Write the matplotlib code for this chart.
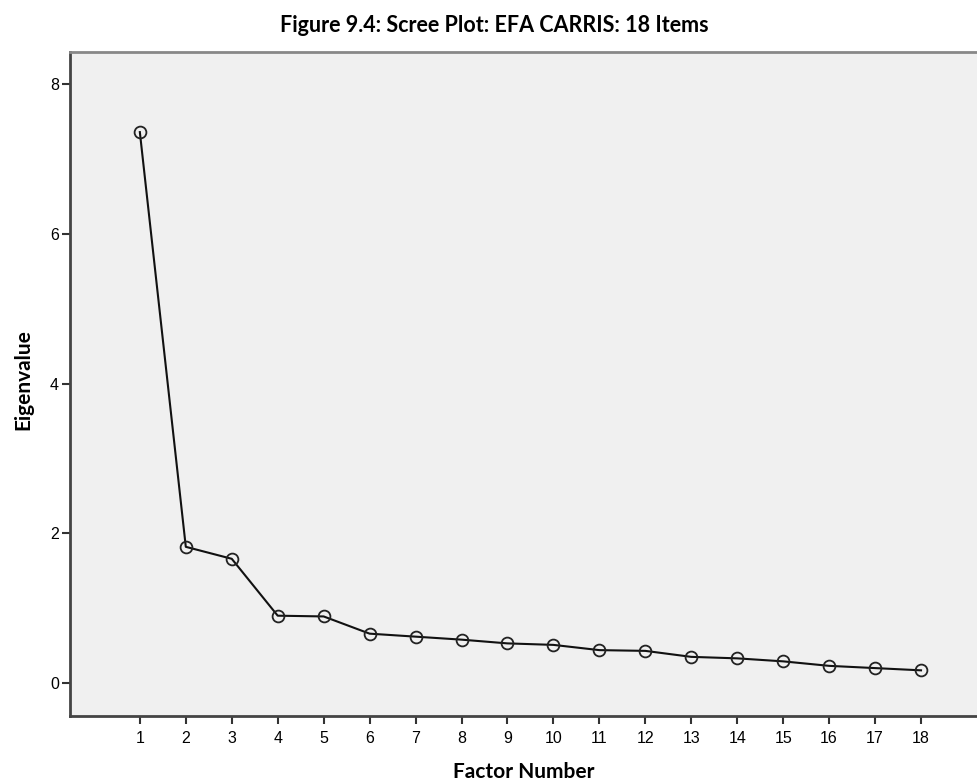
import matplotlib
matplotlib.use("Agg")
import matplotlib.pyplot as plt

factors = list(range(1, 19))
eigenvalues = [7.36, 1.82, 1.66, 0.90, 0.89, 0.66, 0.62, 0.58, 0.53, 0.51,
               0.44, 0.43, 0.35, 0.33, 0.29, 0.23, 0.20, 0.17]
y_ticks = [0, 2, 4, 6, 8]
title = "Figure 9.4: Scree Plot: EFA CARRIS: 18 Items"
xlabel = "Factor Number"
ylabel = "Eigenvalue"

fig = plt.figure(figsize=(9.78, 7.82), dpi=100)
ax = fig.add_axes([70/978, 1-716/782, 908/978, (716-52)/782])
ax.set_facecolor("#f0f0f0")

ax.plot(factors, eigenvalues, color="#111111", lw=1.5, marker="o", ms=8.5,
        mfc="none", mec="#222222", mew=1.3)

ax.set_xlim(-0.52, 19.24)
ax.set_ylim(-0.44, 8.43)
ax.set_xticks(factors)
ax.set_yticks(y_ticks)
tick_font = dict(family="Liberation Sans", size=11.5)
ax.set_xticklabels([str(f) for f in factors], **tick_font)
ax.set_yticklabels([str(t) for t in y_ticks], **tick_font)
ax.tick_params(direction="out", length=6, width=1.5, color="#333333")
ax.tick_params(axis="x", pad=5)
ax.tick_params(axis="y", pad=2)

for s in ["left", "bottom"]:
    ax.spines[s].set_color("#444444")
    ax.spines[s].set_linewidth(2)
ax.spines["top"].set_color("#888888")
ax.spines["top"].set_linewidth(2)
ax.spines["right"].set_visible(False)

fig.text(494/978, 1-25/782, title, ha="center", va="center",
         family="Lato", weight="bold", size=15.5)
fig.text(524/978, 1-772/782, xlabel, ha="center", va="center",
         family="Lato", weight="bold", size=15)
fig.text(23/978, 1-380/782, ylabel, ha="center", va="center", rotation=90,
         family="Lato", weight="bold", size=15)

fig.savefig("out.png", dpi=100)
